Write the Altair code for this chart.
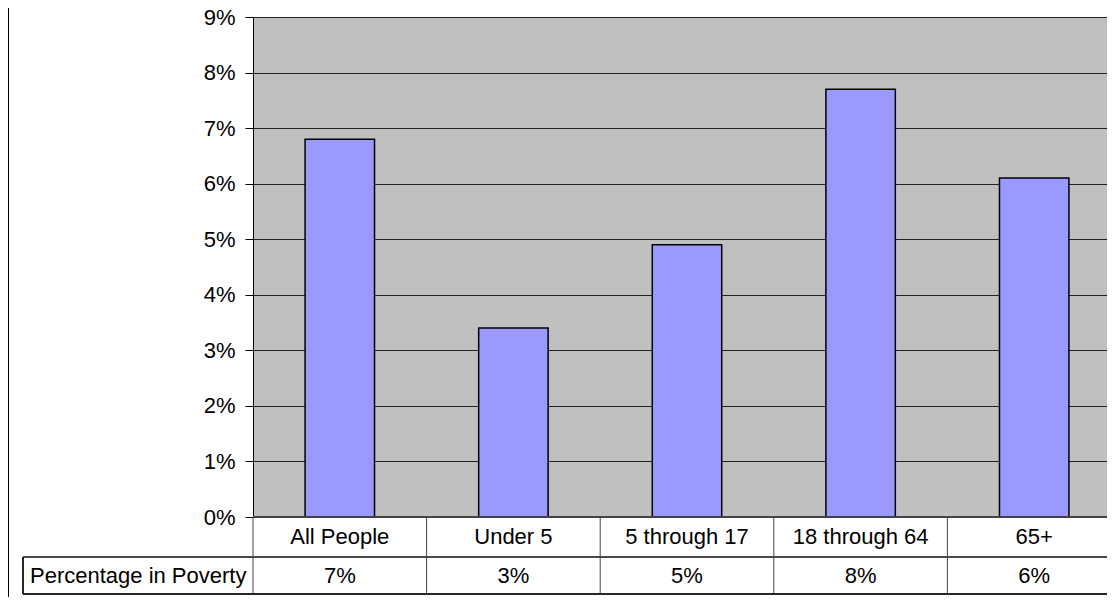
import altair as alt
import pandas as pd

categories = ["All People", "Under 5", "5 through 17", "18 through 64", "65+"]
poverty = [0.068, 0.034, 0.049, 0.077, 0.061]
row_label = "Percentage in Poverty"
y_ticks = [0, 0.01, 0.02, 0.03, 0.04, 0.05, 0.06, 0.07, 0.08, 0.09]

df = pd.DataFrame({"cat": categories, "val": poverty})

FONT = "Liberation Sans"
FS = 22
W = 854          # visible view width (SVG must stay within the 1099px body)
RANGE_W = 868    # full band range (right edge runs off the page)
H = 500

xs = alt.Scale(domain=categories, range=[0, RANGE_W], paddingInner=0, paddingOuter=0)
x_enc = alt.X("cat:N", sort=categories, scale=xs, axis=None)

base = alt.Chart(df)

bars = base.mark_bar(
    width=alt.RelativeBandSize(0.4), color="#9999FF", stroke="black", strokeWidth=1.5
).encode(
    x=x_enc,
    y=alt.Y(
        "val:Q",
        scale=alt.Scale(domain=[0, 0.09], nice=False, zero=True),
        axis=alt.Axis(
            values=y_ticks, format=".0%", title=None,
            labelFont=FONT, labelFontSize=FS, labelColor="black", labelPadding=10,
            tickSize=8, tickColor="black", domainColor="black", domainWidth=1,
            grid=True, gridColor="#222222", gridWidth=1,
        ),
    ),
)

# table column separators (start of each band)
col_lines = base.mark_rule(color="#444444", strokeWidth=1).encode(
    x=alt.X("cat:N", sort=categories, scale=xs, axis=None, bandPosition=0),
    y=alt.value(H),
    y2=alt.value(577),
)

# horizontal table lines
h_top = base.mark_rule(color="#444444", strokeWidth=1).encode(
    x=alt.value(0), x2=alt.value(RANGE_W), y=alt.value(H)
)
h_mid = base.mark_rule(color="#444444", strokeWidth=1).encode(
    x=alt.value(-230), x2=alt.value(RANGE_W), y=alt.value(540)
)
h_bot = base.mark_rule(color="#222222", strokeWidth=1).encode(
    x=alt.value(-230), x2=alt.value(RANGE_W), y=alt.value(577)
)
left_cell = base.mark_rule(color="#222222", strokeWidth=1).encode(
    x=alt.value(-230), y=alt.value(540), y2=alt.value(577)
)
outer = base.mark_rule(color="black", strokeWidth=1).encode(
    x=alt.value(-244.5), y=alt.value(-9), y2=alt.value(580)
)

cat_text = base.mark_text(font=FONT, fontSize=FS, color="black", baseline="middle").encode(
    x=x_enc, y=alt.value(520), text="cat:N"
)
val_text = base.mark_text(font=FONT, fontSize=FS, color="black", baseline="middle").encode(
    x=x_enc, y=alt.value(559), text=alt.Text("val:Q", format=".0%")
)
row_text = alt.Chart(pd.DataFrame({"label": [row_label]})).mark_text(
    font=FONT, fontSize=FS, color="black", align="left", baseline="middle"
).encode(x=alt.value(-223), y=alt.value(559), text="label:N")

chart = alt.layer(
    bars, col_lines, h_top, h_mid, h_bot, left_cell, outer, cat_text, val_text, row_text
).properties(
    width=W, height=H,
    autosize=alt.AutoSizeParams(type="none"),
    padding={"left": 245, "top": 9, "right": 0, "bottom": 80},
    background="white",
).configure_view(fill="#C0C0C0", stroke=None)

chart.save("out.html", embed_options={"renderer": "svg", "actions": False})
